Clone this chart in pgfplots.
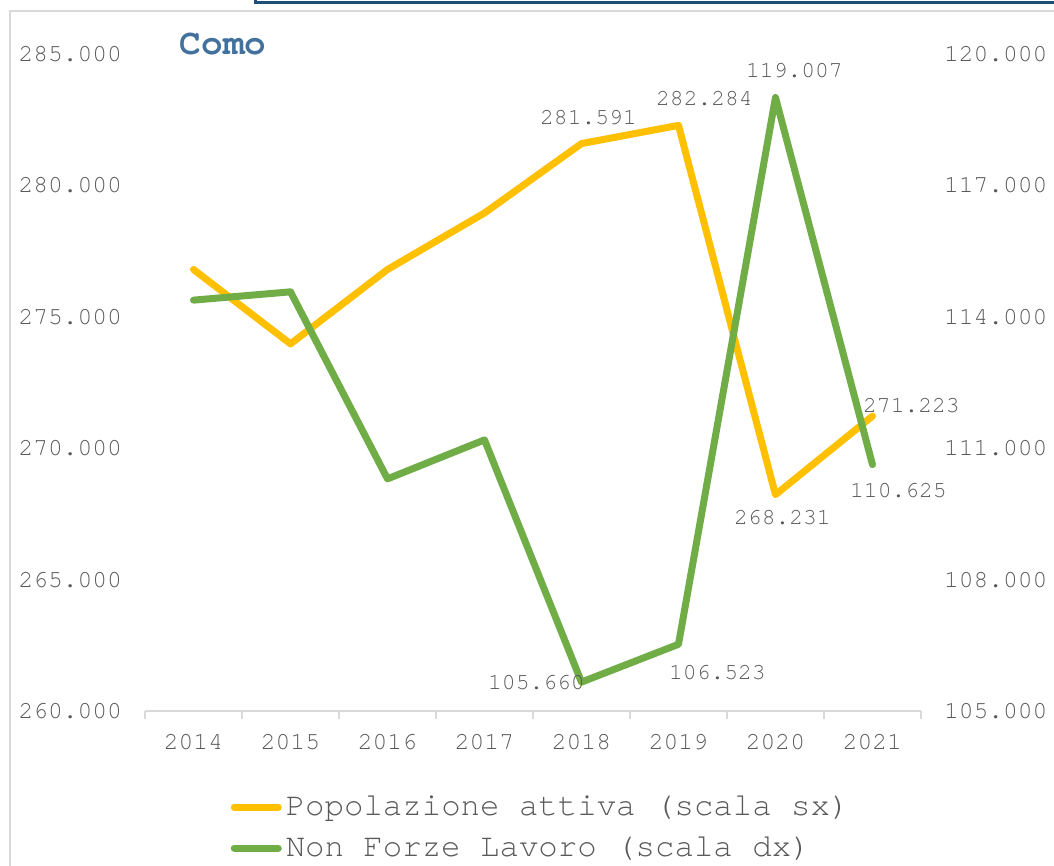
\documentclass[border=0pt]{standalone}
\usepackage{pgfplots}
\usepackage{pgfplotstable}
\pgfplotsset{compat=1.18}
\usepackage{fontspec}
\setmainfont{TeX Gyre Cursor}
\setmonofont{TeX Gyre Cursor}

\definecolor{popcol}{HTML}{FFC000}
\definecolor{nflcol}{HTML}{70AD47}
\definecolor{txtgray}{HTML}{595959}
\definecolor{axgray}{HTML}{D9D9D9}
\definecolor{titleblue}{HTML}{41719C}
\definecolor{frameblue}{HTML}{1F4E79}

% Popolazione attiva (migliaia, scala sx)
\pgfplotstableread{
x y lbl dx dy
0 276.80 {} 0 0
1 273.97 {} 0 0
2 276.80 {} 0 0
3 278.95 {} 0 0
4 281.591 281.591 3.5 13
5 282.284 282.284 13 13.5
6 268.231 268.231 3.5 -11.5
7 271.223 271.223 19.5 5
}\popdata

% Non Forze Lavoro (migliaia, scala dx)
\pgfplotstableread{
x y lbl dx dy
0 114.38 {} 0 0
1 114.57 {} 0 0
2 110.30 {} 0 0
3 111.19 {} 0 0
4 105.660 105.660 -22.5 0
5 106.523 106.523 19.5 -14
6 119.007 119.007 9.5 13.5
7 110.625 110.625 13 -13
}\nfldata

\pgfplotsset{
  common/.style={
    scale only axis, width=388pt, height=328.5pt,
    at={(72.5pt,77.5pt)}, anchor=south west,
    xmin=-0.5, xmax=7.5, clip=false,
    tick label style={font=\fontsize{12.3}{14}\selectfont, text=txtgray},
    ytick style={draw=none},
    y axis line style={draw=none},
  },
  serie/.style={
    line width=3.5pt, line cap=round, line join=round, mark=none,
    point meta=explicit symbolic,
    visualization depends on={\thisrow{dx}\as\dx},
    visualization depends on={\thisrow{dy}\as\dy},
    nodes near coords,
    nodes near coords style={anchor=center, xshift=\dx pt, yshift=\dy pt,
      font=\fontsize{11.5}{13}\selectfont, text=txtgray},
  },
}

\begin{document}
\begin{tikzpicture}
\useasboundingbox (0,0) rectangle (527pt,433pt);
\fill[white] (0,0) rectangle (527pt,433pt);
\draw[axgray, line width=1pt] (5pt,0) -- (5pt,427.5pt) -- (527pt,427.5pt);
\draw[frameblue, line width=1.5pt] (127.75pt,433pt) -- (127.75pt,431.75pt) -- (527pt,431.75pt);
\node[font=\bfseries\fontsize{18}{20}\selectfont, text=titleblue] at (111.5pt,411pt) {Como};

\begin{axis}[common,
  ymin=260, ymax=285,
  ytick={260,265,270,275,280,285},
  yticklabels={260.000,265.000,270.000,275.000,280.000,285.000},
  axis x line*=bottom, axis y line*=left,
  x axis line style={draw=axgray, line width=1pt},
  xtick={0,...,7},
  xticklabels={2014,2015,2016,2017,2018,2019,2020,2021},
  major x tick style={draw=none},
  minor xtick={-0.5,0.5,...,7.5},
  minor x tick style={draw=axgray, line width=1pt},
  minor tick length=4pt,
  xtick align=outside,
  xticklabel style={yshift=-4pt},
  yticklabel style={xshift=-8pt},
  legend style={at={(axis description cs:0.11,-0.1775)}, anchor=west,
    draw=none, fill=none, inner sep=0pt, row sep=5pt,
    font=\fontsize{16.2}{18}\selectfont, text=txtgray,
    cells={anchor=west}},
  legend image code/.code={\draw[#1, line width=3.5pt, line cap=round] (0pt,0pt) -- (22pt,0pt);},
]
\addplot[serie, draw=popcol] table[x=x, y=y, meta=lbl] {\popdata};
\addlegendentry{Popolazione attiva (scala sx)}
\addlegendimage{draw=nflcol}
\addlegendentry{Non Forze Lavoro (scala dx)}
\end{axis}

\begin{axis}[common,
  ymin=105, ymax=120,
  ytick={105,108,111,114,117,120},
  yticklabels={105.000,108.000,111.000,114.000,117.000,120.000},
  axis x line=none, axis y line*=right,
  yticklabel style={anchor=west, xshift=8pt},
]
\addplot[serie, draw=nflcol] table[x=x, y=y, meta=lbl] {\nfldata};
\end{axis}
\end{tikzpicture}
\end{document}
